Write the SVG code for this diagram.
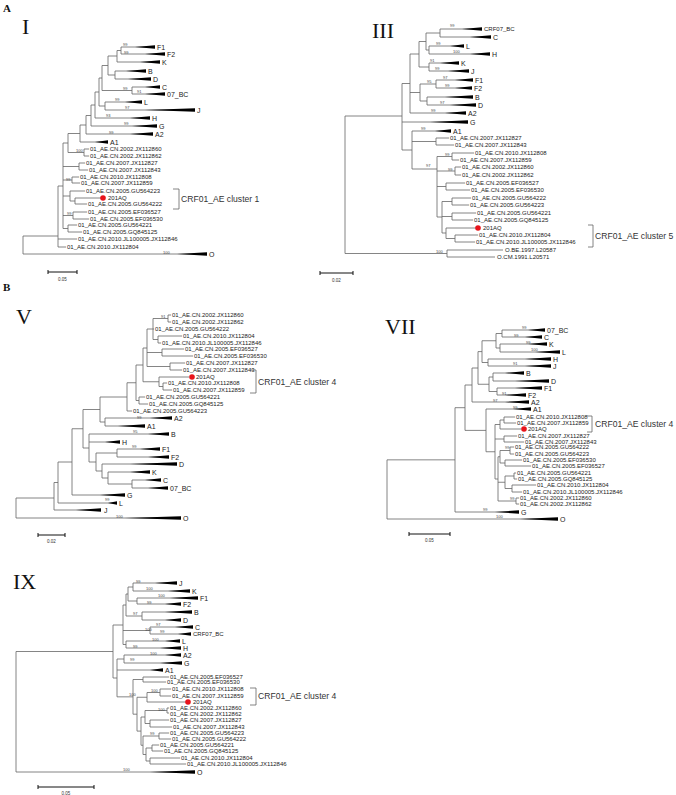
<svg xmlns="http://www.w3.org/2000/svg" width="676" height="795" viewBox="0 0 676 795">
<style>
.t{stroke:#666;stroke-width:0.8;fill:none}
.sb{stroke:#111;stroke-width:1;fill:none}
.w{fill:#000}
.lf{font-family:"Liberation Sans",Arial,sans-serif;font-size:6px;fill:#222;dominant-baseline:central}
.st{font-family:"Liberation Sans",Arial,sans-serif;font-size:7px;fill:#222;dominant-baseline:central}
.bs{font-family:"Liberation Sans",Arial,sans-serif;font-size:4px;fill:#444;dominant-baseline:central}
.cl{font-family:"Liberation Sans",Arial,sans-serif;font-size:8.6px;fill:#333;dominant-baseline:central}
.rn{font-family:"Liberation Serif","Times New Roman",serif;font-size:22px;fill:#111}
.pl{font-family:"Liberation Serif","Times New Roman",serif;font-size:11px;font-weight:bold;fill:#111}
.sc{font-family:"Liberation Sans",Arial,sans-serif;font-size:4.5px;fill:#333}
.dot{fill:#e8141b}
</style>
<rect width="676" height="795" fill="#fff"/>
<text class="pl" x="3" y="12">A</text>
<text class="pl" x="3" y="291">B</text>

<!-- PANEL I -->
<g id="panel-I">
<text class="rn" x="22" y="34">I</text>
<g id="I-connectors">
<path class="t" d="M121,47V54M121,47H155M121,54H165M117,50.5V62M117,50.5H121M117,62H160M115,71V79M115,71H146M115,79H151M108,56V75M108,56H117M108,75H115M132,87V94M132,87H160M132,94H165M102,65.5V90.5M102,65.5H108M102,90.5H132M105,102V110M105,102H142M105,110H195M99,78V106M99,78H102M99,106H105M95,92V118M95,92H99M95,118H150M91,105V126M91,105H95M91,126H157M86,115.5V134M86,115.5H91M86,134H153M80,125V142M80,125H86M80,142H108M84,149V156M84,149H89M84,156H89M68,133.5V152.5M68,133.5H80M68,152.5H84M79,163V170M79,163H85M79,170H88M72,177V183M72,177H79M72,183H80M75,198V204M75,198H101M75,204H87M70,191V201M70,191H85M70,201H75M73,212V219M73,212H87M73,219H89M68,225V232M68,225H77M68,232H82M63,143V228.5M63,143H68M63,166.5H79M63,180H72M63,196H70M63,215.5H73M63,228.5H68M58,186V247M58,186H63M58,239H77M58,247H66M23,236V254M23,236H58M23,254H207"/>
</g>
<g id="I-wedges">
<polygon class="w" points="135,47 155,45.2 155,48.8"/>
<polygon class="w" points="145,54 165,52.2 165,55.8"/>
<polygon class="w" points="140,62 160,60.2 160,63.8"/>
<polygon class="w" points="126,71 146,69.2 146,72.8"/>
<polygon class="w" points="128,79 151,77.2 151,80.8"/>
<polygon class="w" points="145,87 160,85.2 160,88.8"/>
<polygon class="w" points="145,94 165,92.2 165,95.8"/>
<polygon class="w" points="125,102 142,100.2 142,103.8"/>
<polygon class="w" points="145,110 195,108.2 195,111.8"/>
<polygon class="w" points="130,118 150,116.2 150,119.8"/>
<polygon class="w" points="132,126 157,124.2 157,127.8"/>
<polygon class="w" points="130,134 153,132.2 153,135.8"/>
<polygon class="w" points="95,142 108,140.2 108,143.8"/>
<polygon class="w" points="177,254 207,252.2 207,255.8"/>
</g>
<g id="I-leaves">
<text class="st" x="157" y="47">F1</text>
<text class="st" x="167" y="54">F2</text>
<text class="st" x="162" y="62">K</text>
<text class="st" x="148" y="71">B</text>
<text class="st" x="153" y="79">D</text>
<text class="st" x="162" y="87">C</text>
<text class="st" x="167" y="94">07_BC</text>
<text class="st" x="144" y="102">L</text>
<text class="st" x="197" y="110">J</text>
<text class="st" x="152" y="118">H</text>
<text class="st" x="159" y="126">G</text>
<text class="st" x="155" y="134">A2</text>
<text class="st" x="110" y="142">A1</text>
<text class="lf" x="90" y="149">01_AE.CN.2002.JX112860</text>
<text class="lf" x="90" y="156">01_AE.CN.2002.JX112862</text>
<text class="lf" x="86" y="163">01_AE.CN.2007.JX112827</text>
<text class="lf" x="89" y="170">01_AE.CN.2007.JX112843</text>
<text class="lf" x="80" y="177">01_AE.CN.2010.JX112808</text>
<text class="lf" x="81" y="183">01_AE.CN.2007.JX112859</text>
<text class="lf" x="86" y="191">01_AE.CN.2005.GU564223</text>
<circle class="dot" cx="103" cy="198" r="2.8"/>
<text class="lf" x="108" y="198">201AQ</text>
<text class="lf" x="88" y="204">01_AE.CN.2005.GU564222</text>
<text class="lf" x="88" y="212">01_AE.CN.2005.EF036527</text>
<text class="lf" x="90" y="219">01_AE.CN.2005.EF036530</text>
<text class="lf" x="78" y="225">01_AE.CN.2005.GU564221</text>
<text class="lf" x="83" y="232">01_AE.CN.2005.GQ845125</text>
<text class="lf" x="78" y="239">01_AE.CN.2010.JL100005.JX112846</text>
<text class="lf" x="67" y="247">01_AE.CN.2010.JX112804</text>
<text class="st" x="209" y="254">O</text>
</g>
<g id="I-support">
<text class="bs" x="123" y="44">99</text><text class="bs" x="124" y="52">99</text><text class="bs" x="123" y="88">99</text><text class="bs" x="137" y="91">91</text><text class="bs" x="115" y="99">99</text><text class="bs" x="125" y="107">97</text><text class="bs" x="106" y="115">93</text><text class="bs" x="124" y="123">99</text><text class="bs" x="109" y="132">99</text><text class="bs" x="76" y="150">100</text><text class="bs" x="66" y="179">99</text><text class="bs" x="67" y="213">99</text><text class="bs" x="163" y="252">100</text>
</g>
<g id="I-cluster">
<path class="t" d="M173,189H179V209H173"/>
<text class="cl" x="181" y="199">CRF01_AE cluster 1</text>
</g>
<g id="I-scale">
<path class="sb" d="M48,272H77M48,270V274M77,270V274"/>
<text class="sc" x="62.5" y="281" text-anchor="middle">0.05</text>
</g>
</g>

<!-- PANEL III -->
<g id="panel-III">
<text class="rn" x="372" y="38">III</text>
<g id="III-connectors">
<path class="t" d="M440,29V37M440,29H482M440,37H491M429,46V54M429,46H464M429,54H490M426,33V50M426,33H440M426,50H429M429,63V71M429,63H459M429,71H469M419,41.5V67M419,41.5H426M419,67H429M436,80V88M436,80H473M436,88H472M427,97V105M427,97H473M427,105H476M420,84V101M420,84H436M420,101H427M410,54V113M410,54H419M410,92.5H420M410,113H466M436,138V145M436,138H449M436,145H454M452,153V160M452,153H474M452,160H459M455,167V175M455,167H461M455,175H461M446,183V190M446,183H465M446,190H470M452,198V205M452,198H471M452,205H469M452,213V220M452,213H476M452,220H473M455,235V242M455,235H478M455,242H475M446,228V238.5M446,228H477M446,238.5H455M442,201.5V233M442,201.5H452M442,216.5H452M442,233H446M437,156.5V217M437,156.5H452M437,171H455M437,186.5H446M437,217H442M412,131V169M412,131H451M412,141.5H436M412,169H437M402,83.5V150M402,83.5H410M402,122H468M402,150H412M447,250V257M447,250H503M447,257H495M345,116V253.5M345,116H402M345,253.5H447"/>
</g>
<g id="III-wedges">
<polygon class="w" points="462,29 482,27.2 482,30.8"/>
<polygon class="w" points="470,37 491,35.2 491,38.8"/>
<polygon class="w" points="450,46 464,44.2 464,47.8"/>
<polygon class="w" points="470,54 490,52.2 490,55.8"/>
<polygon class="w" points="440,63 459,61.2 459,64.8"/>
<polygon class="w" points="448,71 469,69.2 469,72.8"/>
<polygon class="w" points="455,80 473,78.2 473,81.8"/>
<polygon class="w" points="455,88 472,86.2 472,89.8"/>
<polygon class="w" points="445,97 473,95.2 473,98.8"/>
<polygon class="w" points="450,105 476,103.2 476,106.8"/>
<polygon class="w" points="445,113 466,111.2 466,114.8"/>
<polygon class="w" points="430,122 468,120.2 468,123.8"/>
<polygon class="w" points="435,131 451,129.2 451,132.8"/>
</g>
<g id="III-leaves">
<text class="lf" x="484" y="29">CRF07_BC</text>
<text class="st" x="493" y="37">C</text>
<text class="st" x="466" y="46">L</text>
<text class="st" x="492" y="54">H</text>
<text class="st" x="461" y="63">K</text>
<text class="st" x="471" y="71">J</text>
<text class="st" x="475" y="80">F1</text>
<text class="st" x="474" y="88">F2</text>
<text class="st" x="475" y="97">B</text>
<text class="st" x="478" y="105">D</text>
<text class="st" x="468" y="113">A2</text>
<text class="st" x="470" y="122">G</text>
<text class="st" x="453" y="131">A1</text>
<text class="lf" x="450" y="138">01_AE.CN.2007.JX112827</text>
<text class="lf" x="455" y="145">01_AE.CN.2007.JX112843</text>
<text class="lf" x="475" y="153">01_AE.CN.2010.JX112808</text>
<text class="lf" x="460" y="160">01_AE.CN.2007.JX112859</text>
<text class="lf" x="462" y="167">01_AE.CN.2002.JX112860</text>
<text class="lf" x="462" y="175">01_AE.CN.2002.JX112862</text>
<text class="lf" x="466" y="183">01_AE.CN.2005.EF036527</text>
<text class="lf" x="471" y="190">01_AE.CN.2005.EF036530</text>
<text class="lf" x="472" y="198">01_AE.CN.2005.GU564222</text>
<text class="lf" x="470" y="205">01_AE.CN.2005.GU564223</text>
<text class="lf" x="477" y="213">01_AE.CN.2005.GU564221</text>
<text class="lf" x="474" y="220">01_AE.CN.2005.GQ845125</text>
<circle class="dot" cx="478" cy="228" r="2.8"/>
<text class="lf" x="483" y="228">201AQ</text>
<text class="lf" x="479" y="235">01_AE.CN.2010.JX112804</text>
<text class="lf" x="476" y="242">01_AE.CN.2010.JL100005.JX112846</text>
<text class="lf" x="505" y="250">O.BE.1997.L20587</text>
<text class="lf" x="497" y="257">O.CM.1991.L20571</text>
</g>
<g id="III-support">
<text class="bs" x="450" y="25">99</text><text class="bs" x="436" y="43">99</text><text class="bs" x="453" y="51">100</text><text class="bs" x="430" y="60">91</text><text class="bs" x="435" y="68">99</text><text class="bs" x="427" y="81">95</text><text class="bs" x="443" y="77">97</text><text class="bs" x="445" y="85">99</text><text class="bs" x="440" y="102">97</text><text class="bs" x="431" y="110">99</text><text class="bs" x="421" y="128">99</text><text class="bs" x="445" y="154">99</text><text class="bs" x="448" y="169">99</text><text class="bs" x="426" y="165">97</text><text class="bs" x="436" y="251">100</text>
</g>
<g id="III-cluster">
<path class="t" d="M588,225H593V247H588"/>
<text class="cl" x="595" y="236">CRF01_AE cluster 5</text>
</g>
<g id="III-scale">
<path class="sb" d="M320,273H353M320,271V275M353,271V275"/>
<text class="sc" x="336.5" y="282" text-anchor="middle">0.02</text>
</g>
</g>

<!-- PANEL V -->
<g id="panel-V">
<text class="rn" x="16" y="324" font-size="25">V</text>
<g id="V-connectors">
<path class="t" d="M168,315V322M168,315H171M168,322H171M158,336V343M158,336H182M158,343H161M153,318.5V339.5M153,318.5H168M153,329H154M153,339.5H158M162,349V356M162,349H184M162,356H193M170,363V370M170,363H185M170,370H182M147,329V366.5M147,329H153M147,352.5H162M147,366.5H170M163,383V390M163,383H167M163,390H172M159,377V386.5M159,377H189M159,386.5H163M143,348V381.75M143,348H147M143,381.75H159M139,397V404M139,397H145M139,404H148M136,365V400.5M136,365H143M136,400.5H139M127,382.75V411M127,382.75H136M127,411H132M105,418V426M105,418H172M105,426H145M100,397V422M100,397H127M100,422H105M132,480V488M132,480H161M132,488H168M108,472V484M108,472H150M108,484H132M102,464V478M102,464H177M102,478H108M117,449V457M117,449H160M117,457H169M96,453V471M96,453H117M96,471H102M89,434V462M89,434H169M89,442H120M89,462H96M83,409.5V448M83,409.5H100M83,448H89M72,428.75V495M72,428.75H83M72,495H125M58,462V503M58,462H72M58,503H117M54,482.5V510M54,482.5H58M54,510H101M16,498V518M16,498H54M16,518H181"/>
</g>
<g id="V-wedges">
<polygon class="w" points="150,418 172,416.2 172,419.8"/>
<polygon class="w" points="118,426 145,424.2 145,427.8"/>
<polygon class="w" points="148,434 169,432.2 169,435.8"/>
<polygon class="w" points="105,442 120,440.2 120,443.8"/>
<polygon class="w" points="140,449 160,447.2 160,450.8"/>
<polygon class="w" points="148,457 169,455.2 169,458.8"/>
<polygon class="w" points="130,464 177,462.2 177,465.8"/>
<polygon class="w" points="130,472 150,470.2 150,473.8"/>
<polygon class="w" points="145,480 161,478.2 161,481.8"/>
<polygon class="w" points="148,488 168,486.2 168,489.8"/>
<polygon class="w" points="100,495 125,493.2 125,496.8"/>
<polygon class="w" points="108,503 117,501.2 117,504.8"/>
<polygon class="w" points="76,510 101,508.2 101,511.8"/>
<polygon class="w" points="125,518 181,516.2 181,519.8"/>
</g>
<g id="V-leaves">
<text class="lf" x="172" y="315">01_AE.CN.2002.JX112860</text>
<text class="lf" x="172" y="322">01_AE.CN.2002.JX112862</text>
<text class="lf" x="155" y="329">01_AE.CN.2005.GU564222</text>
<text class="lf" x="183" y="336">01_AE.CN.2010.JX112804</text>
<text class="lf" x="162" y="343">01_AE.CN.2010.JL100005.JX112846</text>
<text class="lf" x="185" y="349">01_AE.CN.2005.EF036527</text>
<text class="lf" x="194" y="356">01_AE.CN.2005.EF036530</text>
<text class="lf" x="186" y="363">01_AE.CN.2007.JX112827</text>
<text class="lf" x="183" y="370">01_AE.CN.2007.JX112843</text>
<circle class="dot" cx="192" cy="377" r="2.8"/>
<text class="lf" x="196" y="377">201AQ</text>
<text class="lf" x="168" y="383">01_AE.CN.2010.JX112808</text>
<text class="lf" x="173" y="390">01_AE.CN.2007.JX112859</text>
<text class="lf" x="146" y="397">01_AE.CN.2005.GU564221</text>
<text class="lf" x="149" y="404">01_AE.CN.2005.GQ845125</text>
<text class="lf" x="133" y="411">01_AE.CN.2005.GU564223</text>
<text class="st" x="174" y="418">A2</text>
<text class="st" x="147" y="426">A1</text>
<text class="st" x="171" y="434">B</text>
<text class="st" x="122" y="442">H</text>
<text class="st" x="162" y="449">F1</text>
<text class="st" x="171" y="457">F2</text>
<text class="st" x="179" y="464">D</text>
<text class="st" x="152" y="472">K</text>
<text class="st" x="163" y="480">C</text>
<text class="st" x="170" y="488">07_BC</text>
<text class="st" x="127" y="495">G</text>
<text class="st" x="119" y="503">L</text>
<text class="st" x="104" y="510">J</text>
<text class="st" x="183" y="518">O</text>
</g>
<g id="V-support">
<text class="bs" x="161" y="316">91</text><text class="bs" x="137" y="417">99</text><text class="bs" x="133" y="431">95</text><text class="bs" x="132" y="446">99</text><text class="bs" x="105" y="499">99</text><text class="bs" x="116" y="516">100</text>
</g>
<g id="V-cluster">
<path class="t" d="M250,370H256V393H250"/>
<text class="cl" x="258" y="382">CRF01_AE cluster 4</text>
</g>
<g id="V-scale">
<path class="sb" d="M38,535H65M38,533V537M65,533V537"/>
<text class="sc" x="51.5" y="543" text-anchor="middle">0.02</text>
</g>
</g>

<!-- PANEL VII -->
<g id="panel-VII">
<text class="rn" x="385" y="334">VII</text>
<g id="VII-connectors">
<path class="t" d="M502,330V337M502,330H545M502,337H542M500,344V352M500,344H547M500,352H560M496,333.5V348M496,333.5H502M496,348H500M488,359V366M488,359H551M488,366H551M482,340.75V362.5M482,340.75H496M482,362.5H488M493,373V381M493,373H524M493,381H549M497,388V395M497,388H542M497,395H526M489,377V391.5M489,377H493M489,391.5H497M478,351.6V384.25M478,351.6H482M478,384.25H489M472,368V402M472,368H478M472,402H529M504,417V423M504,417H515M504,423H516M500,420V429M500,420H504M500,429H521M504,436V442M504,436H517M504,442H524M510,447V454M510,447H514M510,454H514M505,460V466M505,460H522M505,466H531M500,450.5V463M500,450.5H510M500,463H505M514,473V479M514,473H516M514,479H517M512,485V492M512,485H536M512,492H522M505,476V488.5M505,476H514M505,488.5H512M516,498V504M516,498H519M516,504H519M498,456.75V501M498,456.75H500M498,482.25H505M498,501H516M495,424.5V479M495,424.5H500M495,439H504M495,479H498M486,409V451.75M486,409H531M486,451.75H495M465,385V430.4M465,385H472M465,430.4H486M455,407.7V512M455,407.7H465M455,512H519M387,459.85V519M387,459.85H455M387,519H558"/>
</g>
<g id="VII-wedges">
<polygon class="w" points="528,330 545,328.2 545,331.8"/>
<polygon class="w" points="525,337 542,335.2 542,338.8"/>
<polygon class="w" points="528,344 547,342.2 547,345.8"/>
<polygon class="w" points="535,352 560,350.2 560,353.8"/>
<polygon class="w" points="525,359 551,357.2 551,360.8"/>
<polygon class="w" points="525,366 551,364.2 551,367.8"/>
<polygon class="w" points="505,373 524,371.2 524,374.8"/>
<polygon class="w" points="515,381 549,379.2 549,382.8"/>
<polygon class="w" points="515,388 542,386.2 542,389.8"/>
<polygon class="w" points="505,395 526,393.2 526,396.8"/>
<polygon class="w" points="505,402 529,400.2 529,403.8"/>
<polygon class="w" points="513,409 531,407.2 531,410.8"/>
<polygon class="w" points="495,512 519,510.2 519,513.8"/>
<polygon class="w" points="520,519 558,517.2 558,520.8"/>
</g>
<g id="VII-leaves">
<text class="st" x="547" y="330">07_BC</text>
<text class="st" x="544" y="337">C</text>
<text class="st" x="549" y="344">K</text>
<text class="st" x="562" y="352">L</text>
<text class="st" x="553" y="359">H</text>
<text class="st" x="553" y="366">J</text>
<text class="st" x="526" y="373">B</text>
<text class="st" x="551" y="381">D</text>
<text class="st" x="544" y="388">F1</text>
<text class="st" x="528" y="395">F2</text>
<text class="st" x="531" y="402">A2</text>
<text class="st" x="533" y="409">A1</text>
<text class="lf" x="516" y="417">01_AE.CN.2010.JX112808</text>
<text class="lf" x="517" y="423">01_AE.CN.2007.JX112859</text>
<circle class="dot" cx="524" cy="429" r="2.8"/>
<text class="lf" x="528" y="429">201AQ</text>
<text class="lf" x="518" y="436">01_AE.CN.2007.JX112827</text>
<text class="lf" x="525" y="442">01_AE.CN.2007.JX112843</text>
<text class="lf" x="515" y="447">01_AE.CN.2005.GU564222</text>
<text class="lf" x="515" y="454">01_AE.CN.2005.GU564223</text>
<text class="lf" x="523" y="460">01_AE.CN.2005.EF036530</text>
<text class="lf" x="532" y="466">01_AE.CN.2005.EF036527</text>
<text class="lf" x="517" y="473">01_AE.CN.2005.GU564221</text>
<text class="lf" x="518" y="479">01_AE.CN.2005.GQ845125</text>
<text class="lf" x="537" y="485">01_AE.CN.2010.JX112804</text>
<text class="lf" x="523" y="492">01_AE.CN.2010.JL100005.JX112846</text>
<text class="lf" x="520" y="498">01_AE.CN.2002.JX112860</text>
<text class="lf" x="520" y="504">01_AE.CN.2002.JX112862</text>
<text class="st" x="521" y="512">G</text>
<text class="st" x="560" y="519">O</text>
</g>
<g id="VII-support">
<text class="bs" x="522" y="327">99</text><text class="bs" x="514" y="335">99</text><text class="bs" x="526" y="342">99</text><text class="bs" x="531" y="349">100</text><text class="bs" x="513" y="363">91</text><text class="bs" x="502" y="393">91</text><text class="bs" x="493" y="400">97</text><text class="bs" x="513" y="407">99</text><text class="bs" x="505" y="447">99</text><text class="bs" x="510" y="498">99</text><text class="bs" x="483" y="509">99</text><text class="bs" x="496" y="516">100</text>
</g>
<g id="VII-cluster">
<path class="t" d="M587,416H592V432H587"/>
<text class="cl" x="595" y="424">CRF01_AE cluster 4</text>
</g>
<g id="VII-scale">
<path class="sb" d="M409,534H450M409,532V536M450,532V536"/>
<text class="sc" x="429.5" y="542" text-anchor="middle">0.05</text>
</g>
</g>

<!-- PANEL IX -->
<g id="panel-IX">
<text class="rn" x="13" y="589">IX</text>
<g id="IX-connectors">
<path class="t" d="M133,583V591M133,583H177M133,591H190M137,598V604M137,598H198M137,604H181M128,587V601M128,587H133M128,601H137M142,612V620M142,612H192M142,620H181M126,594V616M126,594H128M126,616H142M150,627V634M150,627H193M150,634H191M126,641V648M126,641H180M126,648H181M123,605V644.5M123,605H126M123,630.5H150M123,644.5H126M124,655V663M124,655H181M124,663H182M143,677V682M143,677H169M143,682H166M160,689V696M160,689H171M160,696H171M147,692.5V702M147,692.5H160M147,702H186M167,708V713M167,708H169M167,713H169M150,720V727M150,720H169M150,727H172M145,710.5V723.5M145,710.5H167M145,723.5H150M159,733V739M159,733H169M159,739H171M152,745V751M152,745H159M152,751H163M150,758V764M150,758H180M150,764H186M146,748V761M146,748H152M146,761H150M143,736V754.5M143,736H159M143,754.5H146M141,717V745.25M141,717H145M141,745.25H143M137,697.25V731.1M137,697.25H147M137,731.1H141M133,679.5V714.2M133,679.5H143M133,714.2H137M117,659V696.85M117,659H124M117,670H163M117,696.85H133M113,625V678M113,625H123M113,678H117M16,651.5V772M16,651.5H113M16,772H195"/>
</g>
<g id="IX-wedges">
<polygon class="w" points="155,583 177,581.2 177,584.8"/>
<polygon class="w" points="168,591 190,589.2 190,592.8"/>
<polygon class="w" points="170,598 198,596.2 198,599.8"/>
<polygon class="w" points="165,604 181,602.2 181,605.8"/>
<polygon class="w" points="165,612 192,610.2 192,613.8"/>
<polygon class="w" points="165,620 181,618.2 181,621.8"/>
<polygon class="w" points="175,627 193,625.2 193,628.8"/>
<polygon class="w" points="178,634 191,632.2 191,635.8"/>
<polygon class="w" points="165,641 180,639.2 180,642.8"/>
<polygon class="w" points="160,648 181,646.2 181,649.8"/>
<polygon class="w" points="165,655 181,653.2 181,656.8"/>
<polygon class="w" points="160,663 182,661.2 182,664.8"/>
<polygon class="w" points="150,670 163,668.2 163,671.8"/>
<polygon class="w" points="150,772 195,770.2 195,773.8"/>
</g>
<g id="IX-leaves">
<text class="st" x="179" y="583">J</text>
<text class="st" x="192" y="591">K</text>
<text class="st" x="200" y="598">F1</text>
<text class="st" x="183" y="604">F2</text>
<text class="st" x="194" y="612">B</text>
<text class="st" x="183" y="620">D</text>
<text class="st" x="195" y="627">C</text>
<text class="lf" x="193" y="634">CRF07_BC</text>
<text class="st" x="182" y="641">L</text>
<text class="st" x="183" y="648">H</text>
<text class="st" x="183" y="655">A2</text>
<text class="st" x="184" y="663">G</text>
<text class="st" x="165" y="670">A1</text>
<text class="lf" x="170" y="677">01_AE.CN.2005.EF036527</text>
<text class="lf" x="167" y="682">01_AE.CN.2005.EF036530</text>
<text class="lf" x="172" y="689">01_AE.CN.2010.JX112808</text>
<text class="lf" x="172" y="696">01_AE.CN.2007.JX112859</text>
<circle class="dot" cx="188" cy="702" r="2.8"/>
<text class="lf" x="193" y="702">201AQ</text>
<text class="lf" x="170" y="708">01_AE.CN.2002.JX112860</text>
<text class="lf" x="170" y="714">01_AE.CN.2002.JX112862</text>
<text class="lf" x="170" y="720">01_AE.CN.2007.JX112827</text>
<text class="lf" x="173" y="727">01_AE.CN.2007.JX112843</text>
<text class="lf" x="170" y="733">01_AE.CN.2005.GU564223</text>
<text class="lf" x="172" y="739">01_AE.CN.2005.GU564222</text>
<text class="lf" x="160" y="745">01_AE.CN.2005.GU564221</text>
<text class="lf" x="164" y="751">01_AE.CN.2005.GQ845125</text>
<text class="lf" x="181" y="758">01_AE.CN.2010.JX112804</text>
<text class="lf" x="187" y="764">01_AE.CN.2010.JL100005.JX112846</text>
<text class="st" x="197" y="772">O</text>
</g>
<g id="IX-support">
<text class="bs" x="136" y="581">99</text><text class="bs" x="146" y="588">100</text><text class="bs" x="158" y="595">100</text><text class="bs" x="147" y="602">99</text><text class="bs" x="133" y="613">97</text><text class="bs" x="156" y="624">97</text><text class="bs" x="145" y="629">100</text><text class="bs" x="160" y="631">99</text><text class="bs" x="152" y="639">100</text><text class="bs" x="133" y="646">99</text><text class="bs" x="150" y="653">100</text><text class="bs" x="130" y="659">99</text><text class="bs" x="151" y="690">100</text><text class="bs" x="129" y="694">100</text><text class="bs" x="158" y="709">100</text><text class="bs" x="150" y="733">99</text><text class="bs" x="123" y="769">100</text>
</g>
<g id="IX-cluster">
<path class="t" d="M250,688H256V705H250"/>
<text class="cl" x="258" y="696">CRF01_AE cluster 4</text>
</g>
<g id="IX-scale">
<path class="sb" d="M38,787H94M38,785V789M94,785V789"/>
<text class="sc" x="66" y="795" text-anchor="middle">0.05</text>
</g>
</g>
</svg>
